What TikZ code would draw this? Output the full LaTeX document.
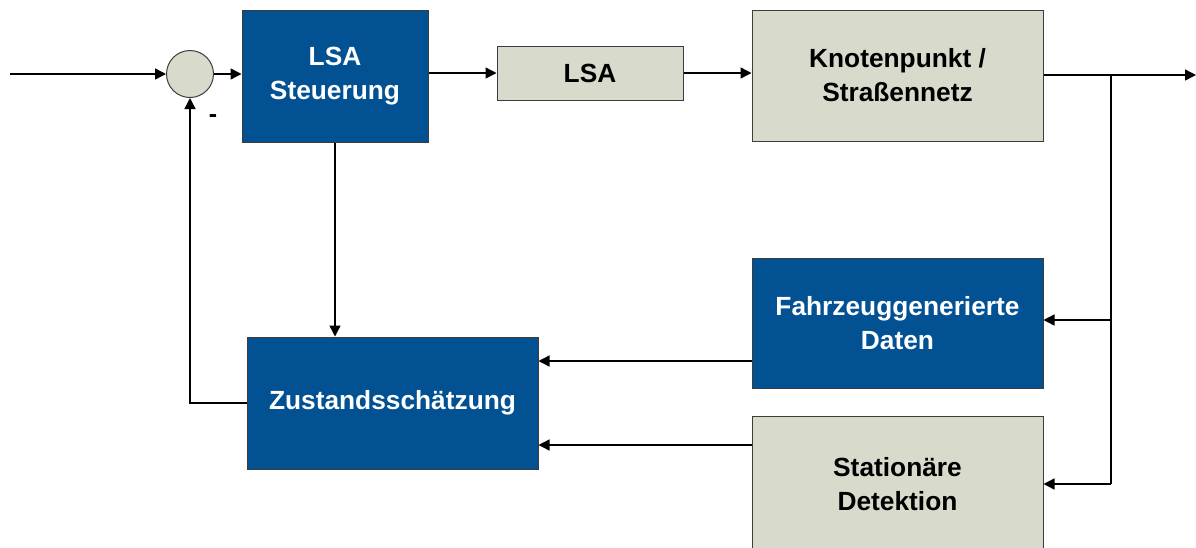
\documentclass[tikz,border=0pt]{standalone}
\usepackage{fontspec}
\setmainfont{Liberation Sans}
\usetikzlibrary{arrows.meta}
\definecolor{lsablue}{RGB}{1,81,147}
\definecolor{lsagray}{RGB}{216,218,203}
\definecolor{edgegray}{RGB}{60,60,60}
\tikzset{
  blk/.style={draw=edgegray, line width=1pt, inner sep=0pt, align=center,
    font=\bfseries\fontsize{26.3}{34}\selectfont},
  blueblk/.style={blk, fill=lsablue, text=white},
  grayblk/.style={blk, fill=lsagray, text=black},
  sig/.style={line width=1.4pt, -{Triangle[length=11pt,width=11pt]}},
  wire/.style={line width=1.4pt},
}
\begin{document}
\begin{tikzpicture}[x=1pt,y=-1pt]
\useasboundingbox (0,0) rectangle (1196,547);
\begin{scope}
\clip (0,0) rectangle (1196,547);
% blocks
\node[circle, draw=edgegray, line width=1pt, fill=lsagray, minimum size=47pt, inner sep=0pt] (sum) at (190,74) {};
\node[blueblk, minimum width=186pt, minimum height=132pt] (ctrl) at (335,76) {LSA\\Steuerung};
\node[grayblk, minimum width=186pt, minimum height=54pt] (lsa) at (590,73) {LSA};
\node[grayblk, minimum width=291pt, minimum height=131pt] (net) at (897.5,75.5) {Knotenpunkt /\\Straßennetz};
\node[blueblk, minimum width=291pt, minimum height=130pt] (fcd) at (897.5,323) {Fahrzeuggenerierte\\Daten};
\node[blueblk, minimum width=291pt, minimum height=132pt] (est) at (392.5,403) {Zustandsschätzung};
\node[grayblk, minimum width=291pt, minimum height=136pt] (det) at (897.5,484) {Stationäre\\Detektion};
\end{scope}
% helper points
\coordinate (in) at (10,74);
\coordinate (out) at (1196,75);
\coordinate (br) at (1111,75);
\coordinate (brfcd) at (1111,320);
\coordinate (brdet) at (1111,484);
\coordinate (fb) at (190,403);
% signal paths
\draw[sig] (in) -- (sum.west);
\draw[sig] (sum.east) -- (ctrl.west |- sum.east);
\draw[sig] (ctrl.east |- lsa.west) -- (lsa.west);
\draw[sig] (lsa.east) -- (net.west |- lsa.east);
\draw[sig] (net.east |- out) -- (out);
\draw[wire] (br) -- (brdet);
\draw[sig] (brfcd) -- (fcd.east |- brfcd);
\draw[sig] (brdet) -- (det.east |- brdet);
\draw[sig] (fcd.west |- 0,361) -- (est.east |- 0,361);
\draw[sig] (det.west |- 0,445) -- (est.east |- 0,445);
\draw[sig] (ctrl.south) -- (ctrl.south |- est.north);
\draw[sig] (est.west |- fb) -- (fb) -- (sum.south);
\node[font=\bfseries\fontsize{25}{30}\selectfont] (minus) at (213,119) {-};
\end{tikzpicture}
\end{document}
